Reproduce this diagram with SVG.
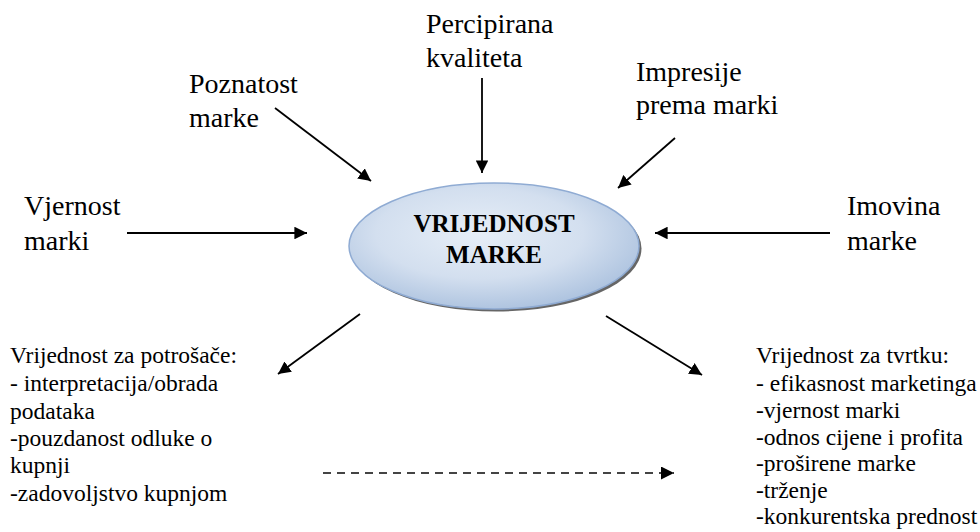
<svg xmlns="http://www.w3.org/2000/svg" width="980" height="532" viewBox="0 0 980 532" font-family="Liberation Serif, Times New Roman, DejaVu Serif, serif">
<style>
text{font-family:'Liberation Serif','Times New Roman','DejaVu Serif',serif}
.lbl{font-size:28px;fill:#000}
.blk{font-size:23.5px;fill:#000}
.ttl{font-size:25px;font-weight:bold;fill:#000;text-anchor:middle}
.con{stroke:#000;stroke-width:1.8;fill:none;marker-end:url(#ah)}
.dash{stroke:#444;stroke-width:2;fill:none;stroke-dasharray:8 6;marker-end:url(#ah2)}
</style>
<defs>
<marker id="ah" viewBox="0 0 10 10" refX="10" refY="5" markerWidth="7" markerHeight="7" markerUnits="strokeWidth" orient="auto">
<path d="M0,0 L10,5 L0,10 Z" fill="#000"/>
</marker>
<marker id="ah2" viewBox="0 0 10 10" refX="10" refY="5" markerWidth="6.5" markerHeight="6.5" markerUnits="strokeWidth" orient="auto">
<path d="M0,0 L10,5 L0,10 Z" fill="#000"/>
</marker>
<radialGradient id="eg" cx="0.45" cy="0.4" r="0.65">
<stop offset="0" stop-color="#e6eef7"/>
<stop offset="0.55" stop-color="#d3dfef"/>
<stop offset="1" stop-color="#a8bfdd"/>
</radialGradient>
</defs>
<rect width="980" height="532" fill="#fff"/>
<g id="center">
<ellipse cx="496.5" cy="248.5" rx="145" ry="63" fill="#666"/>
<ellipse cx="494" cy="246" rx="145" ry="63" fill="url(#eg)" stroke="#8fabd3" stroke-width="1.5"/>
<text class="ttl" x="494" y="232">VRIJEDNOST</text>
<text class="ttl" x="494" y="263">MARKE</text>
</g>
<g id="percipirana"><text class="lbl" x="426" y="33">Percipirana</text><text class="lbl" x="426" y="67">kvaliteta</text></g>
<g id="poznatost"><text class="lbl" x="189" y="93">Poznatost</text><text class="lbl" x="189" y="127">marke</text></g>
<g id="impresije"><text class="lbl" x="636" y="81">Impresije</text><text class="lbl" x="636" y="114">prema marki</text></g>
<g id="vjernost"><text class="lbl" x="24" y="215">Vjernost</text><text class="lbl" x="24" y="250">marki</text></g>
<g id="imovina"><text class="lbl" x="847" y="215">Imovina</text><text class="lbl" x="847" y="250">marke</text></g>
<g id="potrosaci">
<text class="blk" x="10" y="363">Vrijednost za potrošače:</text>
<text class="blk" x="10" y="391">- interpretacija/obrada</text>
<text class="blk" x="10" y="419">podataka</text>
<text class="blk" x="10" y="446">-pouzdanost odluke o</text>
<text class="blk" x="10" y="473">kupnji</text>
<text class="blk" x="10" y="501">-zadovoljstvo kupnjom</text>
</g>
<g id="tvrtka">
<text class="blk" x="756" y="363">Vrijednost za tvrtku:</text>
<text class="blk" x="756" y="391">- efikasnost marketinga</text>
<text class="blk" x="756" y="418">-vjernost marki</text>
<text class="blk" x="756" y="445">-odnos cijene i profita</text>
<text class="blk" x="756" y="471">-proširene marke</text>
<text class="blk" x="756" y="498">-trženje</text>
<text class="blk" x="756" y="524">-konkurentska prednost</text>
</g>
<g id="connectors">
<line class="con" x1="482" y1="78" x2="482" y2="173"/>
<line class="con" x1="275" y1="108" x2="371" y2="181"/>
<line class="con" x1="675" y1="138" x2="618" y2="188"/>
<line class="con" x1="127" y1="233" x2="307" y2="233"/>
<line class="con" x1="830" y1="233" x2="655" y2="233"/>
<line class="con" x1="360" y1="314" x2="278" y2="374"/>
<line class="con" x1="606" y1="316" x2="702" y2="375"/>
<line class="dash" x1="323" y1="473" x2="674" y2="473"/>
</g>
</svg>
